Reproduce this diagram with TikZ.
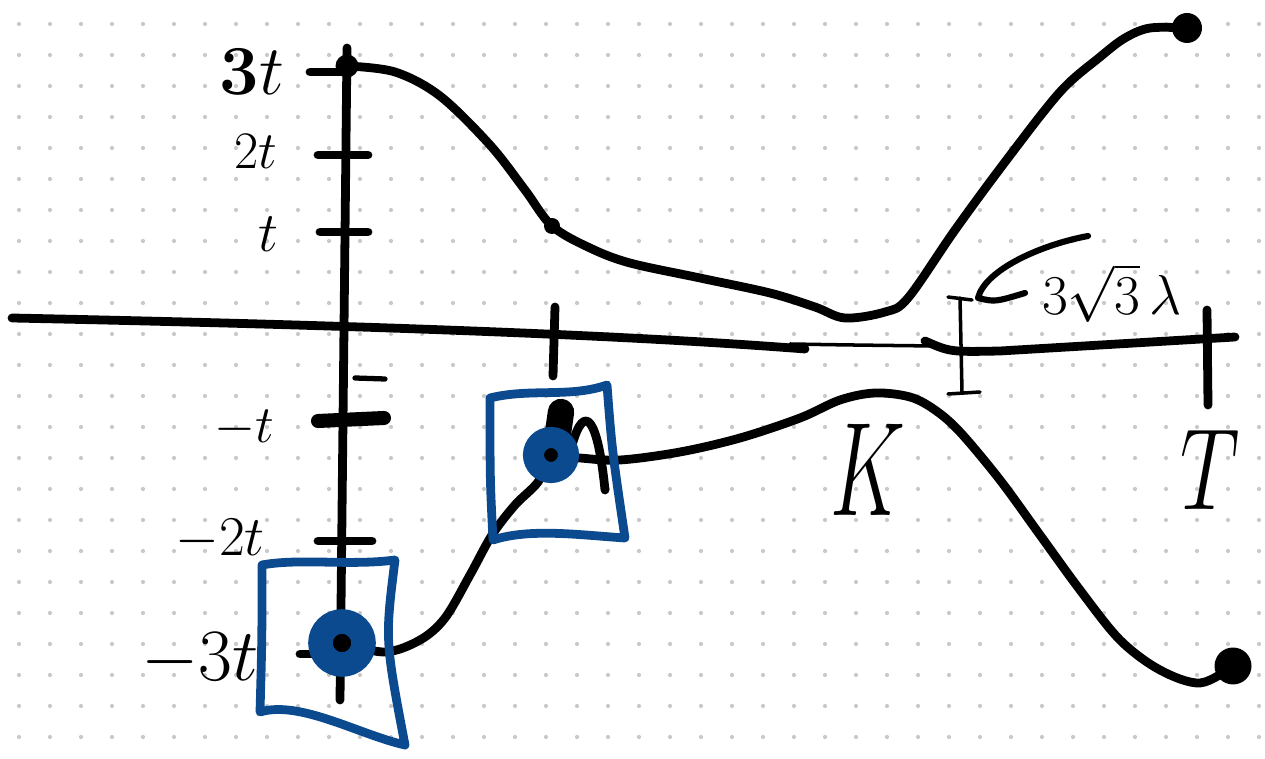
\RequirePackage{fix-cm}
\documentclass[tikz,border=0pt]{standalone}
\usepackage{amsmath, amssymb}
\usepackage{xcolor}
\usepackage{tikz}
\usetikzlibrary{positioning, calc}

\definecolor{inkblue}{HTML}{0B4A8E}
\definecolor{griddot}{HTML}{C9C9C9}
\newcommand{\penfont}[1]{\fontsize{#1}{#1}\selectfont}

\begin{document}
\begin{tikzpicture}[
    x=0.02cm, y=-0.02cm,
    pen/.style={line width=5pt, line cap=round, line join=round},
    thin pen/.style={line width=2pt, line cap=round, line join=round},
    blue pen/.style={draw=inkblue, line width=5pt, line cap=round, line join=round},
    dot/.style={circle, fill=black, inner sep=0pt, minimum size=#1},
    ring/.style={circle, draw=inkblue, fill=black, line width=#1, inner sep=0pt},
    lab/.style={inner sep=0pt, font=\penfont{#1}}
]
    \useasboundingbox (0,0) rectangle (1265,759);
    \foreach \i in {0,...,40}
        \foreach \j in {0,...,23}
            \fill[griddot] (19+31*\i, 24+31*\j) circle[radius=1.2pt];

    % axes
    \coordinate (ytop) at (347,48);
    \coordinate (ybot) at (340,700);
    \coordinate (xl) at (12,318);
    \coordinate (xm) at (805,349);
    \coordinate (xr) at (1235,337);
    \draw[pen] (ytop) -- (ybot);
    \draw[pen] (xl) .. controls (300,324) and (600,333) .. (xm);
    \draw[thin pen] (790,344) .. controls (850,345) .. (935,346);
    \draw[pen] (925,341) .. controls (950,352) .. (1000,351) -- (xr);

    \foreach \ty/\ta/\tb in {72/310/347, 155/318/368, 232/320/368, 541/318/372, 654/300/345}
        \draw[pen] (\ta,\ty) -- (\tb,\ty);
    \draw[pen, line width=8pt] (318,421) -- (384,418);
    \draw[thin pen, line width=3pt] (355,378) -- (385,379);
    \draw[pen] (555,307) -- (553,376);
    \draw[pen] (1207,310) -- (1208,405);

    \node[lab=40] (l3) at (252,72) {$\mathbf{3}t$};
    \node[lab=30] (l2) at (256,152) {$2t$};
    \node[lab=32] (l1) at (268,234) {$t$};
    \node[lab=30] (lm1) at (244,428) {$-t$};
    \node[lab=32] (lm2) at (220,540) {$-2t$};
    \node[lab=42] (lm3) at (200,660) {$-3t$};
    \node[lab=76] (lk) at (868,470) {\scalebox{0.62}[1]{$K$}};
    \node[lab=66] (lt) at (1210,470) {\scalebox{0.72}[1]{$T$}};
    \node[lab=32] (lam) at (1112,293) {$3\sqrt{3}\,\lambda$};

    % upper branch
    \node[dot=0.46cm] (u0) at (347,66) {};
    \node[dot=0.32cm] (u1) at (552,226) {};
    \node[dot=0.6cm] (u2) at (1187,28) {};
    \draw[pen] plot[smooth, tension=0.55] coordinates {(u0.center) (395,72) (440,96) (490,145) (525,190) (u1.center)
        (590,248) (630,263) (700,278) (770,293) (815,307) (845,318) (885,312) (908,298)
        (955,230) (1005,162) (1060,92) (1100,57) (1125,38) (1150,28) (u2.center)};

    % lower branch
    \coordinate (w0) at (342,643);
    \coordinate (w1) at (551,455);
    \node[dot=0.74cm] (w2) at (1233,666) {};
    \draw[pen] plot[smooth, tension=0.55] coordinates {(w0) (385,652) (420,640) (445,618) (470,575)
        (492,535) (515,505) (538,482) (w1)};
    \draw[pen] plot[smooth, tension=0.55] coordinates {(w1) (580,458) (620,460) (680,452) (740,438)
        (800,418) (840,400) (875,393) (910,397) (935,410) (960,432) (1000,480) (1040,535)
        (1080,590) (1120,640) (1160,670) (1200,683) (w2.center)};
    \draw[line width=15pt, line cap=round] (561,412) -- (557,440);
    \draw[pen] (572,445) .. controls (585,400) and (598,420) .. (605,490);

    % marked points
    \draw[blue pen] (490,398) .. controls (530,388) and (570,398) .. (607,385)
        .. controls (612,450) .. (625,538) .. controls (580,535) and (530,528) .. (493,540)
        .. controls (490,480) .. cycle;
    \draw[blue pen] (262,565) .. controls (300,558) and (350,566) .. (395,560)
        .. controls (385,640) .. (405,745) .. controls (360,735) and (300,700) .. (260,712)
        .. controls (262,640) .. cycle;
    \node[ring=12pt, minimum size=0.7cm] (r1) at (w1) {};
    \node[ring=14pt, minimum size=0.86cm] (r0) at (w0) {};

    % gap width
    \coordinate (dtop) at (960,298);
    \coordinate (dbot) at (962,392);
    \coordinate (hook) at (1088,236);
    \draw[thin pen] (dtop) -- (dbot);
    \draw[thin pen] (948,297) -- (972,300);
    \draw[thin pen] (948,394) -- (980,392);
    \draw[pen, line width=3.5pt] (hook) .. controls (1040,245) and (985,270) .. (978,298)
        .. controls (995,302) .. (1025,293);
\end{tikzpicture}
\end{document}
